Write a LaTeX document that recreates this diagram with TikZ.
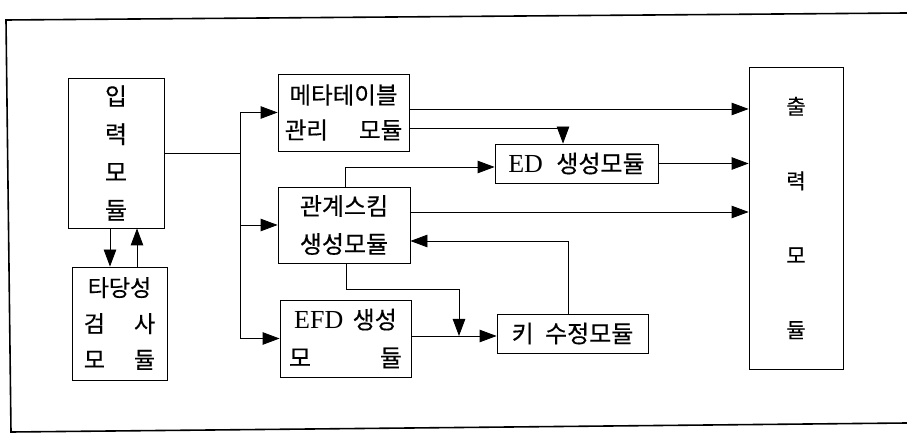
\documentclass[tikz,border=0pt]{standalone}
\usepackage{fontspec}
\setmainfont{Liberation Serif}
\newfontfamily\kr[FakeBold=0.4]{Noto Sans CJK KR}
\usetikzlibrary{arrows.meta,calc}
\begin{document}
\begin{tikzpicture}[x=1pt,y=-1pt,
  box/.style={draw,line width=0.8pt,inner sep=0pt,align=center},
  conn/.style={line width=0.8pt},
  arr/.style={conn,-{Triangle[length=17pt,width=12.5pt]}},
  frame/.style={line width=1.6pt}]
\useasboundingbox (0,0) rectangle (907,435);
% outer frame (open on the right)
\draw[frame] (907,13) -- (6,20) -- (11,432) -- (907,423);
% boxes
\node[box,minimum width=96pt,minimum height=150pt,font=\kr\fontsize{24}{38}\selectfont] (in) at (116,153) {입\\력\\모\\듈};
\node[box,minimum width=95pt,minimum height=113pt,font=\kr\fontsize{23}{36}\selectfont] (val) at (119.5,323.5) {타당성\\\makebox[3.1em]{검\hfill 사}\\\makebox[3.1em]{모\hfill 듈}};
\node[box,minimum width=131pt,minimum height=77pt,font=\kr\fontsize{23.5}{35}\selectfont] (meta) at (343.5,112.5) {메타테이블\\\makebox[5em]{관리\hfill 모듈}};
\node[box,minimum width=132pt,minimum height=76pt,font=\kr\fontsize{24}{38}\selectfont] (rel) at (344,225) {관계스킴\\생성모듈};
\node[box,minimum width=131pt,minimum height=77pt,font=\kr\fontsize{24}{38}\selectfont] (efd) at (345.5,338.5) {{\rmfamily\fontsize{26}{38}\selectfont EFD}\hspace{4pt} 생성\\\makebox[113pt]{모\hfill 듈}};
\node[box,minimum width=163pt,minimum height=39pt,font=\kr\fontsize{24}{26}\selectfont] (ed) at (576.5,163.5) {{\rmfamily\fontsize{26}{26}\selectfont ED}\hspace{8pt} 생성모듈};
\node[box,minimum width=151pt,minimum height=39pt,font=\kr\fontsize{24}{26}\selectfont] (key) at (572.5,333.5) {키\hspace{6pt} 수정모듈};
\node[box,minimum width=94pt,minimum height=302pt,font=\kr\fontsize{21}{74.5}\selectfont] (out) at (796,218) {출\\력\\모\\듈};
% input <-> validation
\draw[arr] (in.south -| 110,0) -- (val.north -| 110,0);
\draw[arr] (val.north -| 137,0) -- (in.south -| 137,0);
% input distribution
\coordinate (j) at (240,153);
\draw[conn] (in.east |- j) -- (j);
\draw[arr] (j) |- (meta.west);
\draw[arr] (j) |- (rel.west);
\draw[arr] (j) |- (efd.west);
% meta outputs
\draw[arr] (meta.east |- 0,109) -- (out.west |- 0,109);
\draw[arr] (meta.east |- 0,128) -| ($(ed.north)+(-13.5,0)$);
% relation schema
\draw[arr] ($(rel.north)+(1,0)$) |- ($(ed.west)+(0,3.5)$);
\draw[arr] (ed.east) -- (out.west |- ed.east);
\draw[arr] (rel.east |- 0,212) -- (out.west |- 0,212);
\draw[arr] ($(key.north)+(-4.5,0)$) |- (rel.east |- 0,241);
\coordinate (m) at (459,336);
\draw[arr] ($(rel.south)+(2,0)$) |- (459,289) -- (m);
\draw[arr] (efd.east |- m) -- (key.west |- m);
\end{tikzpicture}
\end{document}
